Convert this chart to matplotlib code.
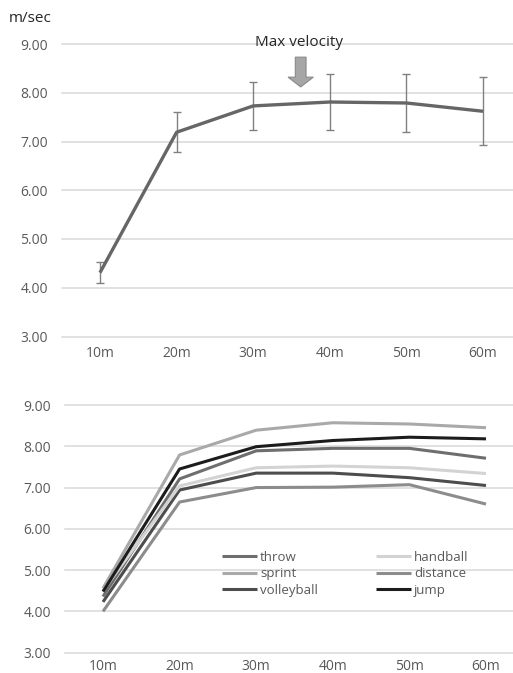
import numpy as np
import matplotlib
matplotlib.use("Agg")
import matplotlib.pyplot as plt
from matplotlib.patches import FancyArrow

plt.rcParams['font.family'] = ['Open Sans', 'DejaVu Sans']

distances = ['10m', '20m', '30m', '40m', '50m', '60m']

# mean velocity with standard deviation
mean_vel = [4.31, 7.19, 7.73, 7.81, 7.79, 7.62]
sd_vel = [0.22, 0.41, 0.50, 0.57, 0.59, 0.70]

# velocity by group
groups = ['throw', 'sprint', 'volleyball', 'handball', 'distance', 'jump']
throw = [4.36, 7.21, 7.89, 7.95, 7.95, 7.71]
sprint = [4.56, 7.79, 8.39, 8.57, 8.54, 8.45]
volleyball = [4.23, 6.94, 7.35, 7.35, 7.24, 7.05]
handball = [4.50, 7.04, 7.48, 7.52, 7.48, 7.34]
distance = [4.00, 6.65, 7.00, 7.01, 7.07, 6.60]
jump = [4.48, 7.45, 7.99, 8.14, 8.22, 8.18]
group_vals = [throw, sprint, volleyball, handball, distance, jump]
group_colors = ['#6e6e6e', '#a9a9a9', '#4d4d4d', '#d3d3d3', '#8c8c8c', '#1c1c1c']

yticks = [3, 4, 5, 6, 7, 8, 9]
tick_color = '#595959'
grid_color = '#d9d9d9'


def style_axis(ax, xpad):
    ax.set_xlim(-0.5, len(distances) - 0.5)
    ax.set_ylim(3, 9)
    ax.set_yticks(yticks)
    ax.set_yticklabels(['%.2f' % v for v in yticks])
    ax.set_xticks(range(len(distances)))
    ax.set_xticklabels(distances)
    for s in ax.spines.values():
        s.set_visible(False)
    ax.tick_params(axis='both', length=0, colors=tick_color, labelsize=10)
    ax.tick_params(axis='y', pad=10)
    ax.tick_params(axis='x', pad=xpad)
    ax.grid(axis='y', color=grid_color, linewidth=1.1)
    ax.set_axisbelow(True)
    for gl in ax.get_ygridlines():
        gl.set_clip_on(False)


fig = plt.figure(figsize=(5.13, 6.73), dpi=100)
W, H = 513, 673

# top panel: mean with error bars
ax1 = fig.add_axes([61.7 / W, 1 - 336.5 / H, 459.6 / W, 292.5 / H])
style_axis(ax1, 7)
x = np.arange(len(distances))
ax1.errorbar(x, mean_vel, yerr=sd_vel, fmt='none', ecolor='#808080',
             elinewidth=1, capsize=3, capthick=1, zorder=2)
ax1.plot(x, mean_vel, color='#666666', linewidth=2.4, zorder=3,
         solid_capstyle='butt')
fig.text(9 / W, 1 - 18 / H, 'm/sec', fontsize=11, color='#262626',
         ha='left', va='center')

arrow = FancyArrow(2.62, 8.73, 0, -0.61, width=0.14, head_width=0.33,
                   head_length=0.20, length_includes_head=True,
                   facecolor='#a6a6a6', edgecolor='#8a8a8a', linewidth=0.8,
                   clip_on=False, zorder=4)
ax1.add_patch(arrow)
ax1.text(2.6, 9.04, 'Max velocity', ha='center', va='center', fontsize=11,
         color='#262626', zorder=5)

# bottom panel: groups
ax2 = fig.add_axes([64.7 / W, 1 - 652.7 / H, 459.6 / W, 247.7 / H])
style_axis(ax2, 4.5)
for name, vals, col in zip(groups, group_vals, group_colors):
    ax2.plot(x, vals, color=col, linewidth=2.2, label=name,
             solid_capstyle='butt')
ax2.legend(ncol=2, frameon=False, loc='upper left',
           bbox_to_anchor=(222 / W, 1 - 551 / H),
           bbox_transform=fig.transFigure, fontsize=9.5,
           labelcolor=tick_color, handlelength=2.65, handletextpad=0.25,
           labelspacing=0.26, columnspacing=4.35, borderpad=0, borderaxespad=0)

fig.savefig('out.png', dpi=100)
